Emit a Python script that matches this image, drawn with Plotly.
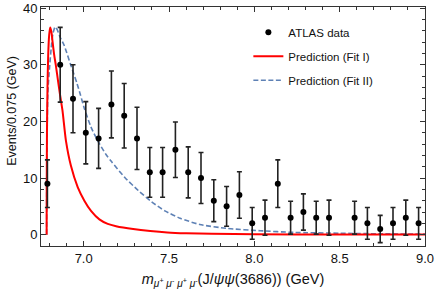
import plotly.graph_objects as go

# ATLAS data (bin centres, counts, errors)
data_x = [6.7875, 6.8625, 6.9375, 7.0125, 7.0875, 7.1625, 7.2375, 7.3125, 7.3875, 7.4625,
          7.5375, 7.6125, 7.6875, 7.7625, 7.8375, 7.9125, 7.9875, 8.0625, 8.1375, 8.2125,
          8.2875, 8.3625, 8.4375, 8.5875, 8.6625, 8.7375, 8.8125, 8.8875, 8.9625]
data_y = [9, 30, 24, 18, 17, 23, 21, 17, 11, 11,
          15, 11, 10, 6, 5, 7, 2, 3, 9, 3,
          4, 3, 3, 3, 2, 1, 2, 3, 2]
data_err = [4.2, 6.6, 6.0, 5.5, 5.3, 5.9, 5.7, 5.5, 4.4, 4.4,
            4.9, 4.5, 4.5, 3.7, 3.5, 4.1, 2.8, 3.1, 4.2, 2.9,
            3.2, 2.9, 3.1, 2.9, 2.8, 2.4, 2.8, 3.1, 2.8]

# Prediction (Fit I)
fit1_x = [6.783, 6.7835, 6.785, 6.788, 6.792, 6.798, 6.804, 6.811, 6.818, 6.827, 6.837,
          6.851, 6.863, 6.876, 6.896, 6.925, 6.965, 7.004, 7.043, 7.092, 7.141, 7.19,
          7.29, 7.39, 7.49, 7.6, 7.75, 8.0, 8.5, 9.0]
fit1_y = [0, 8, 18, 26, 31.6, 35.3, 36.6, 35.8, 34.0, 31.8, 29.9,
          26.9, 24.4, 21.9, 16.6, 12.2, 8.4, 6.0, 4.2, 2.7, 1.9, 1.5,
          1.0, 0.65, 0.4, 0.25, 0.15, 0.08, 0.03, 0.02]

# Prediction (Fit II)
fit2_x = [6.783, 6.7835, 6.785, 6.79, 6.80, 6.81, 6.82, 6.833, 6.845, 6.86, 6.886,
          6.925, 6.96, 6.98, 7.004, 7.043, 7.082, 7.13, 7.163, 7.241, 7.32, 7.398,
          7.476, 7.565, 7.68, 7.84, 8.035, 8.23, 8.5, 8.75, 9.0]
fit2_y = [0, 8, 15, 25, 29.5, 33, 35.5, 36.7, 36.2, 35.0, 33.4,
          29.9, 26.8, 24.8, 22.3, 19.0, 16.6, 14.2, 12.9, 10.1, 7.8, 5.8,
          4.2, 2.9, 1.8, 1.1, 0.7, 0.4, 0.25, 0.15, 0.1]

x_ticks = [7.0, 7.5, 8.0, 8.5, 9.0]
x_ticklabels = ["7.0", "7.5", "8.0", "8.5", "9.0"]
y_ticks = [0, 10, 20, 30, 40]

FONT = "Liberation Sans, Arial"

fig = go.Figure()

fig.add_trace(go.Scatter(
    x=fit2_x, y=fit2_y, mode="lines", name="Prediction (Fit II)",
    line=dict(color="#5E81B5", width=1.6, dash="5px,2.5px", shape="spline", smoothing=0.6),
    legendgroup="c", legendrank=3,
))
fig.add_trace(go.Scatter(
    x=fit1_x, y=fit1_y, mode="lines", name="Prediction (Fit I)",
    line=dict(color="#FF0000", width=2, shape="spline", smoothing=0.6),
    legendgroup="b", legendrank=2,
))
fig.add_trace(go.Scatter(
    x=data_x, y=data_y, mode="markers", name="ATLAS data",
    marker=dict(color="black", size=6),
    error_y=dict(type="data", array=data_err, color="#222222", thickness=1.6, width=2.5),
    legendgroup="a", legendrank=1,
))

axis_common = dict(
    showline=True, linecolor="#333333", linewidth=1, mirror="ticks",
    ticks="inside", ticklen=5, tickcolor="#333333", tickwidth=1,
    showgrid=False, zeroline=False, automargin=False,
    tickfont=dict(family=FONT, size=13, color="#111111"),
)

fig.update_xaxes(
    range=[6.75, 9.0], tickvals=x_ticks, ticktext=x_ticklabels,
    minor=dict(dtick=0.1, tick0=6.8, ticks="inside", ticklen=3, tickcolor="#333333"),
    title=dict(
        text="<i>m</i><sub><i>μ</i><sup>+</sup> <i>μ</i><sup>-</sup> <i>μ</i><sup>+</sup> <i>μ</i><sup>-</sup></sub>(J/<i>ψψ</i>(3686)) (GeV)",
        font=dict(family=FONT, size=14.5, color="#111111"),
        standoff=9,
    ),
    **axis_common,
)
fig.update_yaxes(
    range=[-2.0, 40.2], tickvals=y_ticks,
    minor=dict(dtick=2, tick0=0, ticks="inside", ticklen=3, tickcolor="#333333"),
    **axis_common,
)

fig.add_annotation(
    text="Events/0.075 (GeV)", textangle=-90,
    xref="paper", yref="paper", x=-0.076, y=0.565,
    xanchor="center", yanchor="middle", showarrow=False,
    font=dict(family=FONT, size=12.5, color="#111111"),
)

fig.update_layout(
    width=436, height=290,
    margin=dict(l=41, r=11, t=7, b=44),
    paper_bgcolor="white", plot_bgcolor="white",
    showlegend=True,
    legend=dict(
        x=0.54, y=0.955, xanchor="left", yanchor="top",
        bgcolor="rgba(0,0,0,0)", borderwidth=0,
        font=dict(family=FONT, size=11.5, color="#111111"),
        traceorder="grouped", tracegroupgap=5,
    ),
)

fig.write_html("out.html", post_script="document.body.style.margin='0';",
               config={"displayModeBar": False})
